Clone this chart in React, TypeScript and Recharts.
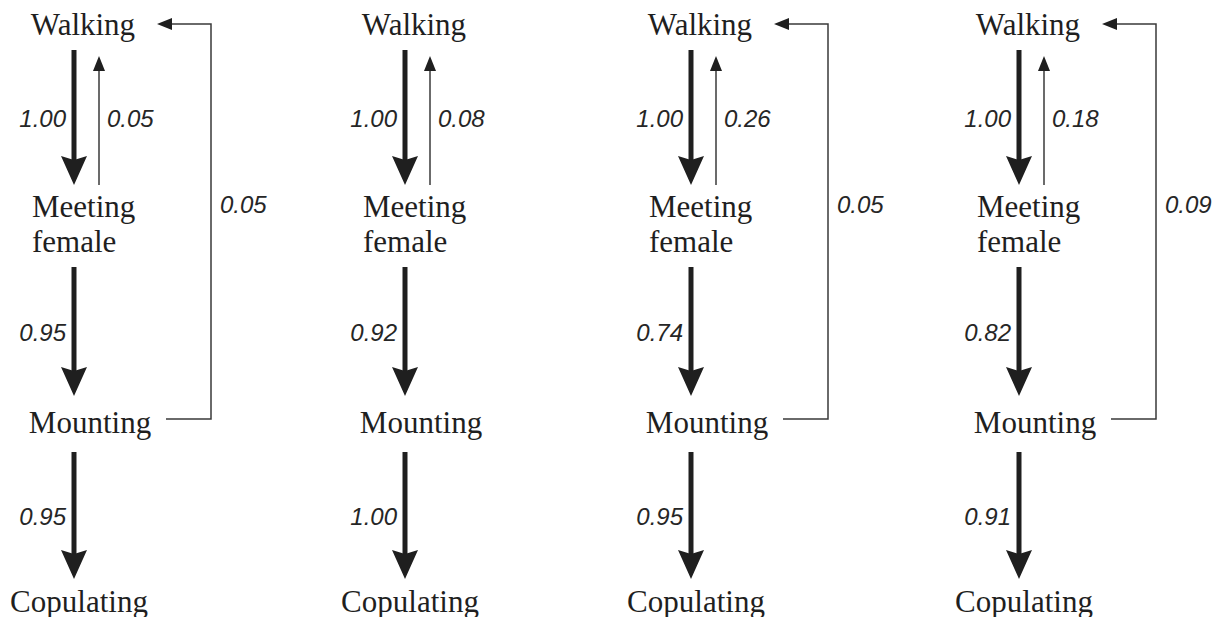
import React from "react";
import { ReferenceLine, Scatter, ScatterChart, XAxis, YAxis } from "recharts";

// behavioural states, top to bottom
const states = ["Walking", "Meeting female", "Mounting", "Copulating"];

// transition probabilities, one value per panel (left to right)
const walkToMeet = [1.0, 1.0, 1.0, 1.0];
const meetToWalk = [0.05, 0.08, 0.26, 0.18];
const meetToMount = [0.95, 0.92, 0.74, 0.82];
const mountToCop = [0.95, 1.0, 0.95, 0.91];
const mountToWalk: (number | null)[] = [0.05, null, 0.05, 0.09];

// page layout: x of the main column of each panel, in px
const panelColumns = [74, 405, 691, 1019];
const CHART_W = 290;
const CHART_H = 625;
const COL = 75;
const LEVEL_TOP = 25;
const LEVEL_STEP = 193;

const SERIF = '"Liberation Serif", "Times New Roman", serif';
const SANS = '"Liberation Sans", Arial, sans-serif';
const INK = "#1f1f1f";
const THIN = "#3a3a3a";

const fmt = (v: number) => v.toFixed(2);

// how each state label sits around its node
const stateLayout = [
  { anchor: "middle", dx: 9, lines: [10] },
  { anchor: "start", dx: -42, lines: [-1, 34] },
  { anchor: "middle", dx: 16, lines: [22] },
  { anchor: "middle", dx: 5, lines: [8] }
];
// distance between node and arrow ends
const gapBelow = [25, 49, 41, 0];
const gapAbove = [31, 33, 15, 25];

const probText = {
  fontFamily: SANS,
  fontStyle: "italic" as const,
  fontSize: 24,
  fill: "#262626"
};

function StateLabel(props: any) {
  const { cx, cy, payload } = props;
  const l = stateLayout[payload.y];
  const words = String(payload.name).split(" ");
  return (
    <text textAnchor={l.anchor} fontFamily={SERIF} fontSize={31} fill={INK}>
      {words.map((w, k) => (
        <tspan key={k} x={cx + l.dx} y={cy + l.lines[k]}>
          {w}
        </tspan>
      ))}
    </text>
  );
}

const mainArrow = (p: number, from: number, to: number) => (props: any) => {
  const x = props.x1;
  const top = props.y1 + gapBelow[from];
  const tip = props.y2 - gapAbove[to];
  return (
    <g>
      <line x1={x} y1={top} x2={x} y2={tip - 24} stroke={INK} strokeWidth={5} />
      <polygon
        points={`${x - 13},${tip - 29} ${x},${tip - 25} ${x + 13},${tip - 29} ${x},${tip}`}
        fill={INK}
      />
      <text x={x - 8} y={(top + tip) / 2 + 9} textAnchor="end" {...probText}>
        {fmt(p)}
      </text>
    </g>
  );
};

const backArrow = (p: number, from: number, to: number) => (props: any) => {
  const x = props.x1 + 25;
  const bottom = props.y1 - gapAbove[from];
  const tip = props.y2 + 31;
  const mid = (props.y2 + gapBelow[to] + bottom) / 2;
  return (
    <g>
      <line x1={x} y1={bottom} x2={x} y2={tip + 12} stroke={THIN} strokeWidth={1.5} />
      <polygon points={`${x - 6},${tip + 15} ${x + 6},${tip + 15} ${x},${tip}`} fill={INK} />
      <text x={props.x1 + 33} y={mid + 9} textAnchor="start" {...probText}>
        {fmt(p)}
      </text>
    </g>
  );
};

const loopArrow = (p: number) => (props: any) => {
  const x = props.x1;
  const yLow = props.y1 + 8;
  const yHigh = props.y2 - 1;
  const tipX = x + 83;
  return (
    <g>
      <path
        d={`M${x + 92},${yLow} H${x + 137} V${yHigh} H${tipX + 12}`}
        fill="none"
        stroke={THIN}
        strokeWidth={1.5}
      />
      <polygon points={`${tipX},${yHigh} ${tipX + 15},${yHigh - 6} ${tipX + 15},${yHigh + 6}`} fill={INK} />
      <text x={x + 146} y={(yLow + yHigh) / 2 - 8.5} textAnchor="start" {...probText}>
        {fmt(p)}
      </text>
    </g>
  );
};

function Panel({ index }: { index: number }) {
  const nodes = states.map((name, i) => ({ x: 0, y: i, name }));
  const loop = mountToWalk[index];
  return (
    <div style={{ position: "absolute", left: panelColumns[index] - COL, top: 0 }}>
      <ScatterChart width={CHART_W} height={CHART_H} margin={{ top: 0, right: 0, bottom: 0, left: 0 }}>
        <XAxis type="number" dataKey="x" domain={[-COL, CHART_W - COL]} allowDataOverflow hide />
        <YAxis
          type="number"
          dataKey="y"
          domain={[-LEVEL_TOP / LEVEL_STEP, (CHART_H - LEVEL_TOP) / LEVEL_STEP]}
          allowDataOverflow
          reversed
          hide
        />
        <ReferenceLine segment={[{ x: 0, y: 0 }, { x: 0, y: 1 }]} shape={mainArrow(walkToMeet[index], 0, 1)} />
        <ReferenceLine segment={[{ x: 0, y: 1 }, { x: 0, y: 0 }]} shape={backArrow(meetToWalk[index], 1, 0)} />
        <ReferenceLine segment={[{ x: 0, y: 1 }, { x: 0, y: 2 }]} shape={mainArrow(meetToMount[index], 1, 2)} />
        <ReferenceLine segment={[{ x: 0, y: 2 }, { x: 0, y: 3 }]} shape={mainArrow(mountToCop[index], 2, 3)} />
        {loop != null && (
          <ReferenceLine segment={[{ x: 0, y: 2 }, { x: 0, y: 0 }]} shape={loopArrow(loop)} />
        )}
        <Scatter data={nodes} shape={StateLabel} isAnimationActive={false} />
      </ScatterChart>
    </div>
  );
}

export default function App() {
  return (
    <div
      style={{
        position: "relative",
        width: 1225,
        height: 625,
        margin: -8,
        overflow: "hidden",
        background: "#fff"
      }}
    >
      {panelColumns.map((_, i) => (
        <Panel key={i} index={i} />
      ))}
    </div>
  );
}
